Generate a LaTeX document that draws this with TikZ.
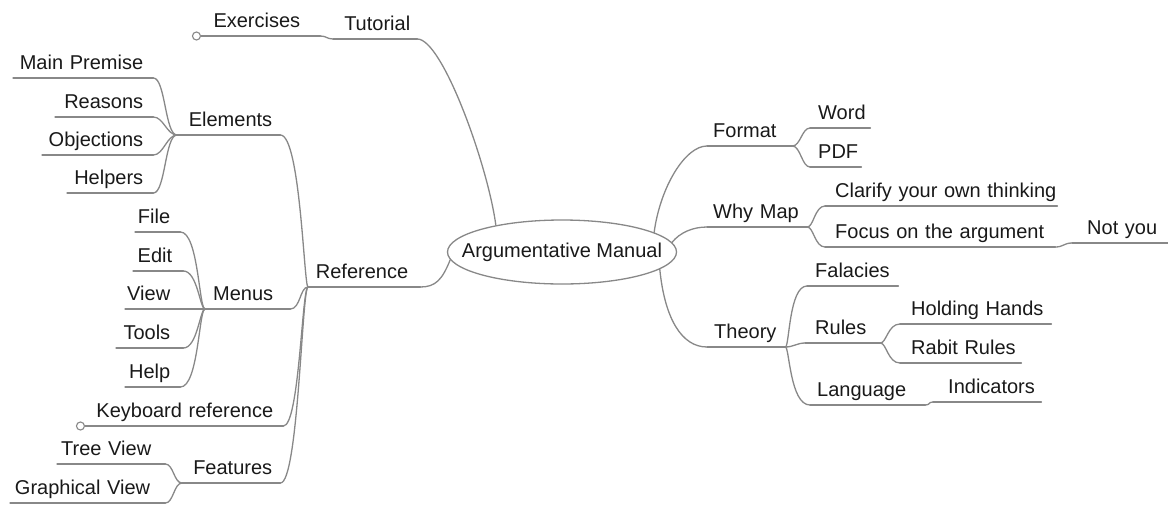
\documentclass[tikz,border=0pt]{standalone}
\usepackage{fontspec}
\setmainfont{Liberation Sans}
\usetikzlibrary{shapes.geometric}
\definecolor{edgegray}{RGB}{136,136,136}
\definecolor{ink}{RGB}{25,25,25}
\tikzset{
  line/.style={draw=edgegray, line width=1.3pt, line cap=round},
  topic/.style={anchor=south west, inner xsep=0pt, inner ysep=8pt,
    text height=15pt, text depth=0pt,
    append after command={(\tikzlastnode.south west) edge[line] (\tikzlastnode.south east)}},
  lnode/.style 2 args={topic, text width=#1pt, align=right, execute at end node={\kern#2pt}},
  rnode/.style 2 args={topic, text width=#1pt, align=left, execute at begin node={\hspace*{#2pt}}},
  rootnode/.style={ellipse, draw=edgegray, line width=1.3pt, fill=white,
    minimum width=229pt, minimum height=64pt, inner sep=0pt},
  fold/.style={circle, draw=edgegray, line width=1.1pt, fill=white,
    minimum size=8pt, inner sep=0pt, anchor=east},
}
\begin{document}
\begin{tikzpicture}[x=1pt, y=-1pt, font=\fontsize{20}{24}\selectfont, text=ink]
\useasboundingbox (0,0) rectangle (1168,507);

% central topic
\node[rootnode] (root) at (562,252) {\makebox[0pt]{Argumentative Manual}};

% left branch
\node[lnode={84}{7}]   (tutorial)  at (333,39)  {Tutorial};
\node[lnode={119}{20}] (exercises) at (201,36)  {Exercises};
\node[fold] (exfold) at (exercises.south west) {};

\node[lnode={112}{12}] (reference) at (308,287) {Reference};
\node[lnode={103}{8}]  (elements)  at (177,135) {Elements};
\node[lnode={140}{10}] (premise)   at (13,78)   {Main Premise};
\node[lnode={98}{10}]  (reasons)   at (55,117)  {Reasons};
\node[lnode={111}{10}] (objections) at (42,155) {Objections};
\node[lnode={86}{10}]  (helpers)   at (67,193)  {Helpers};

\node[lnode={85}{17}]  (menus) at (205,309) {Menus};
\node[lnode={45}{10}]  (file)  at (135,232) {File};
\node[lnode={50}{11}]  (edit)  at (133,271) {Edit};
\node[lnode={60}{15}]  (view)  at (125,309) {View};
\node[lnode={67}{13}]  (tools) at (116,348) {Tools};
\node[lnode={55}{10}]  (help)  at (125,387) {Help};

\node[lnode={198}{10}] (keyboard) at (85,426) {Keyboard reference};
\node[fold] (kbfold) at (keyboard.south west) {};

\node[lnode={98}{8}]   (features)  at (182,483) {Features};
\node[lnode={108}{14}] (treeview)  at (57,464)  {Tree View};
\node[lnode={155}{15}] (graphview) at (10,503)  {Graphical View};

% right branch
\node[rnode={85}{6}]   (format) at (707,146) {Format};
\node[rnode={60}{8}]   (word)   at (810,128) {Word};
\node[rnode={51}{8}]   (pdf)    at (810,167) {PDF};

\node[rnode={100}{6}]  (whymap)  at (707,227) {Why Map};
\node[rnode={232}{10}] (clarify) at (825,206) {Clarify your own thinking};
\node[rnode={230}{10}] (focus)   at (825,247) {Focus on the argument};
\node[rnode={96}{15}]  (notyou)  at (1072,243) {Not you};

\node[rnode={78}{7}]   (theory)     at (707,347) {Theory};
\node[rnode={91}{8}]   (falacies)   at (807,286) {Falacies};
\node[rnode={75}{10}]  (rules)      at (805,343) {Rules};
\node[rnode={151}{11}] (holding)    at (900,324) {Holding Hands};
\node[rnode={121}{11}] (rabit)      at (900,363) {Rabit Rules};
\node[rnode={115}{7}]  (language)   at (810,405) {Language};
\node[rnode={108}{15}] (indicators) at (933,402) {Indicators};

% connectors from the central topic
\draw[line] (root.158) .. controls +(-8,-60) and +(25,0) .. (tutorial.south east);
\draw[line] (root.184) .. controls +(-8,20) and +(15,0) .. (reference.south east);
\draw[line] (root.12)  .. controls +(6,-45) and +(-22,0) .. (format.south west);
\draw[line] (root.5)   .. controls +(8,-10) and +(-14,0) .. (whymap.south west);
\draw[line] (root.350) .. controls +(5,50) and +(-25,0) .. (theory.south west);

% left connectors
\draw[line] (tutorial.south west) .. controls +(-6,0) and +(6,0) .. (exercises.south east);

\draw[line] (reference.south west) .. controls +(-4,0) and +(20,0) .. (elements.south east);
\draw[line] (reference.south west) .. controls +(-8,0) and +(10,0) .. (menus.south east);
\draw[line] (reference.south west) .. controls +(-6,0) and +(16,0) .. (keyboard.south east);
\draw[line] (reference.south west) .. controls +(-6,0) and +(18,0) .. (features.south east);

\draw[line] (elements.south west) .. controls +(-12,0) and +(12,0) .. (premise.south east);
\draw[line] (elements.south west) .. controls +(-10,0) and +(10,0) .. (reasons.south east);
\draw[line] (elements.south west) .. controls +(-10,0) and +(10,0) .. (objections.south east);
\draw[line] (elements.south west) .. controls +(-12,0) and +(12,0) .. (helpers.south east);

\draw[line] (menus.south west) .. controls +(-6,0) and +(18,0) .. (file.south east);
\draw[line] (menus.south west) .. controls +(-5,0) and +(14,0) .. (edit.south east);
\draw[line] (menus.south west) .. controls +(-5,0) and +(5,0) .. (view.south east);
\draw[line] (menus.south west) .. controls +(-5,0) and +(14,0) .. (tools.south east);
\draw[line] (menus.south west) .. controls +(-6,0) and +(18,0) .. (help.south east);

\draw[line] (features.south west) .. controls +(-8,0) and +(8,0) .. (treeview.south east);
\draw[line] (features.south west) .. controls +(-8,0) and +(8,0) .. (graphview.south east);

% right connectors
\draw[line] (format.south east) .. controls +(8,0) and +(-8,0) .. (word.south west);
\draw[line] (format.south east) .. controls +(8,0) and +(-8,0) .. (pdf.south west);

\draw[line] (whymap.south east) .. controls +(6,0) and +(-10,0) .. (clarify.south west);
\draw[line] (whymap.south east) .. controls +(6,0) and +(-10,0) .. (focus.south west);
\draw[line] (focus.south east) .. controls +(8,0) and +(-8,0) .. (notyou.south west);

\draw[line] (theory.south east) .. controls +(4,0) and +(-18,0) .. (falacies.south west);
\draw[line] (theory.south east) .. controls +(8,0) and +(-8,0) .. (rules.south west);
\draw[line] (theory.south east) .. controls +(4,0) and +(-20,0) .. (language.south west);

\draw[line] (rules.south east) .. controls +(6,0) and +(-12,0) .. (holding.south west);
\draw[line] (rules.south east) .. controls +(6,0) and +(-12,0) .. (rabit.south west);
\draw[line] (language.south east) .. controls +(5,0) and +(-5,0) .. (indicators.south west);
\end{tikzpicture}
\end{document}
